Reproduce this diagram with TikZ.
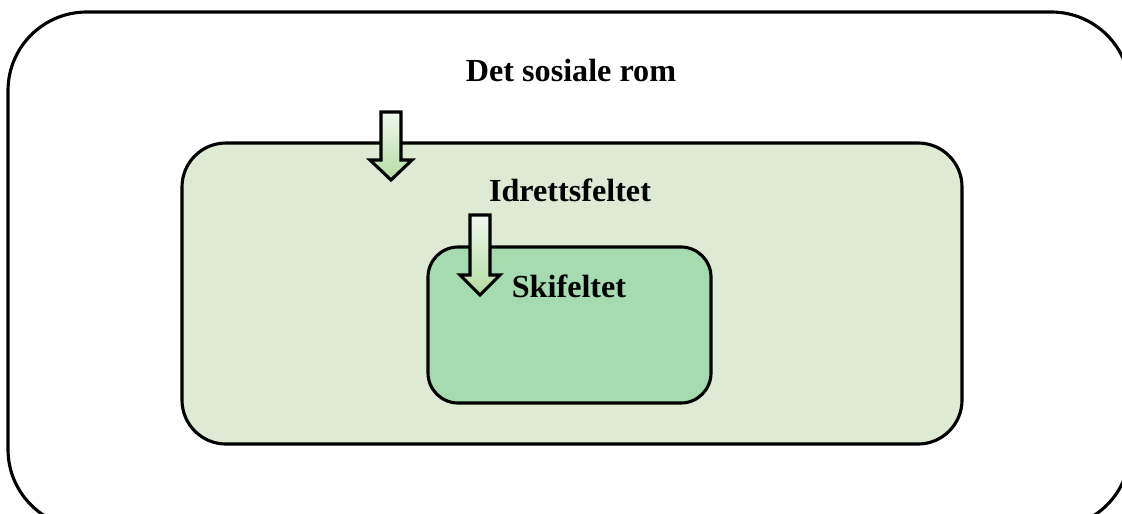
\documentclass[tikz,border=0pt]{standalone}
\usepackage{fontspec}
\setmainfont{Liberation Serif}
\usepackage{tikz}
\usetikzlibrary{positioning, calc}
\definecolor{idrettfill}{HTML}{DEEAD4}
\definecolor{skifill}{HTML}{A6DBB0}
\definecolor{piltop}{HTML}{F0F8ED}
\definecolor{pilbunn}{HTML}{B3DCA0}

\begin{document}
\begin{tikzpicture}[x=0.4323pt, y=-0.4323pt,
        felt/.style={draw=black, line width=1.35pt},
        blokkpil/.style={draw=black, line width=1.35pt, line join=miter,
                         top color=piltop, bottom color=pilbunn},
        feltnavn/.style={font=\bfseries\fontsize{13.9}{16}\selectfont, inner sep=0pt}]
        \useasboundingbox (0,0) rectangle (1122,513);
        \clip (0,0) rectangle (1122,513);

        % ytre rom
        \draw[felt, rounded corners=34pt] (8,12) rectangle (1130,528);
        \node[feltnavn] (rom) at (571,70) {Det sosiale rom};

        % idrettsfeltet
        \draw[felt, fill=idrettfill, rounded corners=19pt] (182,143) rectangle (962,444);
        \node[feltnavn] (idrett) at (570,190) {Idrettsfeltet};

        % skifeltet
        \draw[felt, fill=skifill, rounded corners=13pt] (428,247) rectangle (711,403);
        \node[feltnavn] (ski) at (569,286) {Skifeltet};

        % piler
        \coordinate (pil1) at (391,112);
        \coordinate (pil2) at (480,215);
        \draw[blokkpil] (pil1) ++(-10,0) -- ++(20,0) -- ++(0,48) -- ++(11,0)
              -- ++(-21,20) -- ++(-21,-20) -- ++(11,0) -- cycle;
        \draw[blokkpil] (pil2) ++(-10,0) -- ++(20,0) -- ++(0,60) -- ++(10,0)
              -- ++(-20,20) -- ++(-20,-20) -- ++(10,0) -- cycle;
\end{tikzpicture}
\end{document}
